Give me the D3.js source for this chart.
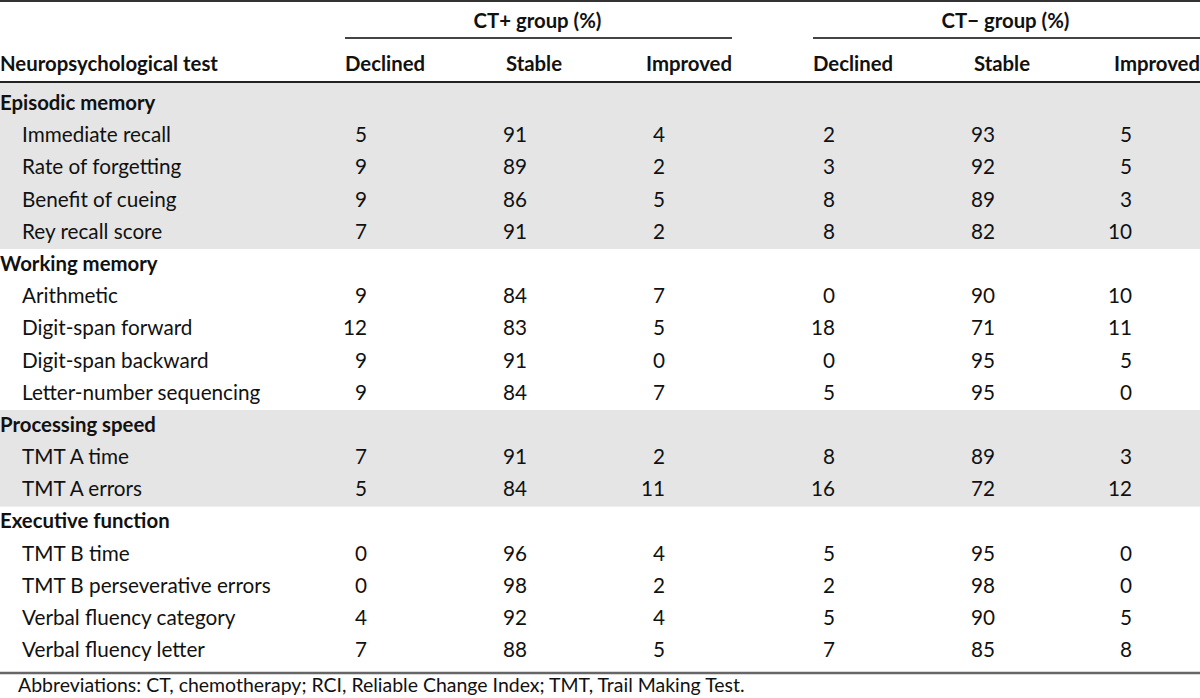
<!DOCTYPE html>
<html>
<head>
<meta charset="utf-8">
<script src="https://cdn.jsdelivr.net/npm/d3@7"></script>
<style>
  html, body { margin: 0; padding: 0; background: #fff; }
  svg { display: block; }
</style>
</head>
<body>
<svg id="chart" width="1200" height="698"></svg>
<script>
// ---------------- DATA ----------------
const domains = ["Episodic memory", "Working memory", "Processing speed", "Executive function"];
const tests = [
  "Immediate recall", "Rate of forgetting", "Benefit of cueing", "Rey recall score",
  "Arithmetic", "Digit-span forward", "Digit-span backward", "Letter-number sequencing",
  "TMT A time", "TMT A errors",
  "TMT B time", "TMT B perseverative errors", "Verbal fluency category", "Verbal fluency letter"
];
const testDomain = [0, 0, 0, 0, 1, 1, 1, 1, 2, 2, 3, 3, 3, 3];
const ctPlusDeclined  = [5, 9, 9, 7, 9, 12, 9, 9, 7, 5, 0, 0, 4, 7];
const ctPlusStable    = [91, 89, 86, 91, 84, 83, 91, 84, 91, 84, 96, 98, 92, 88];
const ctPlusImproved  = [4, 2, 5, 2, 7, 5, 0, 7, 2, 11, 4, 2, 4, 5];
const ctMinusDeclined = [2, 3, 8, 8, 0, 18, 0, 5, 8, 16, 5, 2, 5, 7];
const ctMinusStable   = [93, 92, 89, 82, 90, 71, 95, 95, 89, 72, 95, 98, 90, 85];
const ctMinusImproved = [5, 5, 3, 10, 10, 11, 5, 0, 3, 12, 0, 0, 5, 8];
const groupHeaders = ["CT+ group (%)", "CT\u2212 group (%)"];
const columnHeaders = ["Declined", "Stable", "Improved"];
const firstHeader = "Neuropsychological test";
const footnote = "Abbreviations: CT, chemotherapy; RCI, Reliable Change Index; TMT, Trail Making Test.";

// ---------------- LAYOUT ----------------
const W = 1200, H = 698;
const FONT = "Lato, 'Open Sans', sans-serif";
const svg = d3.select("#chart");

// build rows: domain heading followed by its tests
const rows = [];
domains.forEach((d, di) => {
  rows.push({ type: "domain", label: d, domain: di });
  tests.forEach((t, ti) => {
    if (testDomain[ti] === di) {
      rows.push({
        type: "test", label: t, domain: di,
        values: [ctPlusDeclined[ti], ctPlusStable[ti], ctPlusImproved[ti],
                 ctMinusDeclined[ti], ctMinusStable[ti], ctMinusImproved[ti]]
      });
    }
  });
});

// fit font size to Calibri-like metrics of the reference
function measure(text, weight, size) {
  const t = svg.append("text").attr("font-family", FONT).attr("font-weight", weight)
    .attr("font-size", size).text(text);
  const w = t.node().getComputedTextLength();
  t.remove();
  return w;
}
const bodySize = 100 * 149 / measure("Immediate recall", 400, 100);
const boldSize = 100 * 218 / measure(firstHeader, 700, 100);
const footSize = 100 * 727 / measure(footnote, 400, 100);

// row scale (center of caps)
const y = d3.scaleLinear().domain([0, rows.length - 1]).range([102.5, 102.5 + 32.2 * (rows.length - 1)]);
const capOffset = 0.36; // em, baseline below cap center

// numeric columns (right edges)
const x = d3.scaleOrdinal().domain(d3.range(6)).range([367, 527, 665, 835, 995, 1132]);
const groupSpan = [[345, 732], [813, 1200]];

// shaded bands for domains 0 and 2
const bandTop = i => y(i) - 14.5;
domains.forEach((d, di) => {
  if (di % 2 !== 0) return;
  const idx = rows.map((r, i) => r.domain === di ? i : -1).filter(i => i >= 0);
  const top = di === 0 ? 83 : bandTop(idx[0]);
  const bottom = bandTop(idx[idx.length - 1] + 1);
  svg.append("rect").attr("x", 0).attr("y", top).attr("width", W)
    .attr("height", bottom - top).attr("fill", "#e5e5e5");
});

// lines
svg.append("line").attr("x1", 0).attr("x2", W).attr("y1", 1).attr("y2", 1)
  .attr("stroke", "#333").attr("stroke-width", 2);
groupSpan.forEach(s => {
  svg.append("line").attr("x1", s[0]).attr("x2", s[1]).attr("y1", 38).attr("y2", 38)
    .attr("stroke", "#444").attr("stroke-width", 2);
});
svg.append("line").attr("x1", 0).attr("x2", W).attr("y1", 82).attr("y2", 82)
  .attr("stroke", "#222").attr("stroke-width", 2);
svg.append("line").attr("x1", 0).attr("x2", W).attr("y1", 673).attr("y2", 673)
  .attr("stroke", "#666").attr("stroke-width", 2.5);

// headers
const hdr = svg.append("g").attr("font-family", FONT).attr("font-weight", 700)
  .attr("font-size", boldSize).attr("fill", "#111");
groupHeaders.forEach((g, gi) => {
  hdr.append("text").attr("x", (groupSpan[gi][0] + groupSpan[gi][1]) / 2 - 1)
    .attr("y", 28).attr("text-anchor", "middle").text(g);
});
hdr.append("text").attr("x", 0).attr("y", 71).text(firstHeader);
[0, 1].forEach(gi => {
  const off = gi * 468;
  hdr.append("text").attr("x", 345 + off).attr("y", 71).attr("text-anchor", "start").text(columnHeaders[0]);
  hdr.append("text").attr("x", 534 + off).attr("y", 71).attr("text-anchor", "middle").text(columnHeaders[1]);
  hdr.append("text").attr("x", 732 + off).attr("y", 71).attr("text-anchor", "end").text(columnHeaders[2]);
});

// body rows
const body = svg.append("g").attr("font-family", FONT).attr("fill", "#111");
rows.forEach((r, i) => {
  const base = y(i);
  if (r.type === "domain") {
    body.append("text").attr("x", 0).attr("y", base).attr("dy", capOffset + "em")
      .attr("font-weight", 700).attr("font-size", boldSize).text(r.label);
  } else {
    body.append("text").attr("x", 22).attr("y", base).attr("dy", capOffset + "em")
      .attr("font-size", bodySize).text(r.label);
    r.values.forEach((v, ci) => {
      body.append("text").attr("x", x(ci)).attr("y", base).attr("dy", capOffset + "em")
        .attr("text-anchor", "end").attr("font-size", bodySize).text(v);
    });
  }
});

// footnote
svg.append("text").attr("x", 18).attr("y", 692).attr("font-family", FONT)
  .attr("font-size", footSize).attr("fill", "#111").text(footnote);
</script>
</body>
</html>
